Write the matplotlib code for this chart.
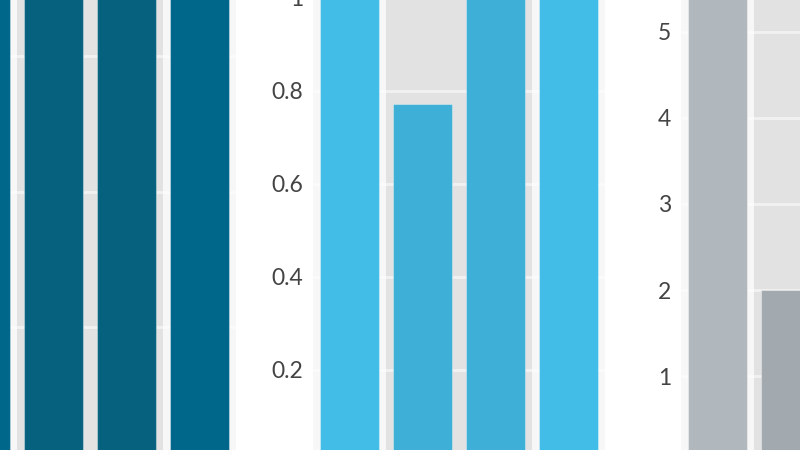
import matplotlib
matplotlib.use("Agg")
import matplotlib.pyplot as plt
import numpy as np

categories = ["A", "B", "C", "D"]
highlight = [False, True, True, False]

left_values = [5.0, 5.0, 5.0, 5.0]
mid_values = [1.2, 0.77, 1.15, 1.2]
right_values = [6.5, 2.0, 4.0, 6.5]

left_colors = ["#00668a", "#05617e"]
mid_colors = ["#41bde8", "#3eafd6"]
right_colors = ["#b0b7bd", "#a2a9af"]

left_ticks = [0, 1, 2, 3]
left_labels = ["", "", "", ""]
mid_ticks = [0, 0.2, 0.4, 0.6, 0.8, 1.0]
mid_labels = ["", "0.2", "0.4", "0.6", "0.8", "1"]
right_ticks = [0, 1, 2, 3, 4, 5]
right_labels = ["", "1", "2", "3", "4", "5"]

W, H = 800, 450
fig = plt.figure(figsize=(8, 4.5), dpi=100)
fig.patch.set_facecolor("white")

zero_px = 462.5
top_px = -50
ax_w = 292

panels = [
    (-56, left_values, left_colors, left_ticks, left_labels, 135.5),
    (313, mid_values, mid_colors, mid_ticks, mid_labels, 465.0),
    (681, right_values, right_colors, right_ticks, right_labels, 86.2),
]

for left_px, vals, cols, ticks, labels, px_per_unit in panels:
    vmax = (zero_px - top_px) / px_per_unit
    ax = fig.add_axes([left_px / W, (H - zero_px) / H, ax_w / W, (zero_px - top_px) / H])
    ax.set_facecolor("#f7f7f7")
    x = np.arange(len(categories))
    hl_idx = [i for i, h in enumerate(highlight) if h]
    ax.axvspan(min(hl_idx) - 0.5, max(hl_idx) + 0.5, color="#e2e2e2", zorder=0.2, lw=0)
    colors = [cols[1] if h else cols[0] for h in highlight]
    ax.bar(x, vals, width=0.8, color=colors, edgecolor=(1, 1, 1, 0.35), linewidth=0.8, zorder=2)
    ax.set_xlim(-0.5, len(categories) - 0.5)
    ax.set_ylim(0, vmax)
    ax.set_yticks(ticks)
    ax.set_yticklabels(labels)
    ax.set_xticks([])
    ax.set_axisbelow(True)
    ax.yaxis.grid(True, color="white", linewidth=2.0, alpha=0.55)
    ax.tick_params(axis="y", length=0, pad=7, labelsize=16.5, labelcolor="#444444")
    for lab in ax.get_yticklabels():
        lab.set_fontfamily(["Lato", "DejaVu Sans"])
    for s in ax.spines.values():
        s.set_visible(False)

fig.savefig("out.png", dpi=100)
